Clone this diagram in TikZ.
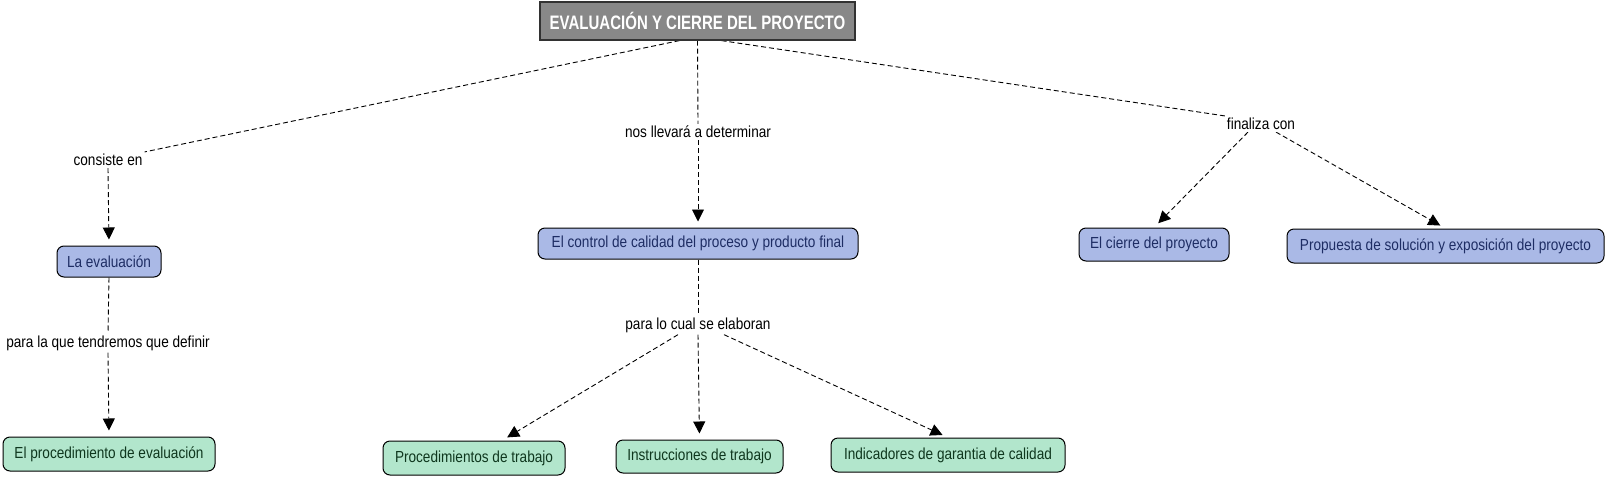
\documentclass[tikz,border=0pt]{standalone}
\usepackage{fontspec}
\setmainfont{Liberation Sans}[FakeStretch=0.85]
\newfontfamily\titlefont{Liberation Sans}[FakeStretch=0.77]
\usetikzlibrary{arrows.meta}
\definecolor{bluefill}{RGB}{170,185,230}
\definecolor{bluetext}{RGB}{30,45,100}
\definecolor{greenfill}{RGB}{178,230,204}
\definecolor{greentext}{RGB}{15,55,30}
\definecolor{titlefill}{RGB}{136,136,136}
\definecolor{titleborder}{RGB}{50,50,50}
\pgfdeclarelayer{bg}
\pgfsetlayers{bg,main}
\begin{document}
\begin{tikzpicture}[x=1pt,y=1pt,
  concept/.style={draw=black, rounded corners=7pt, inner xsep=6pt, font=\fontsize{16}{18}\selectfont, line width=1pt},
  bluebox/.style={concept, fill=bluefill, text=bluetext},
  greenbox/.style={concept, fill=greenfill, text=greentext},
  titlebox/.style={draw=titleborder, fill=titlefill, text=white, line width=1.2pt, font=\titlefont\fontsize{19.5}{22}\selectfont\bfseries},
  lbl/.style={font=\fontsize{16}{18}\selectfont, inner sep=2pt, fill=white},
  conn/.style={line width=0.9pt, dash pattern=on 5pt off 3pt},
  arr/.style={conn, -{Triangle[length=12pt,width=12pt]}, shorten >=6pt}
]
\useasboundingbox (0,0) rectangle (1607,-477);
\node[titlebox, minimum width=315pt, minimum height=38pt] (title) at (697.5,-21) {EVALUACIÓN Y CIERRE DEL PROYECTO};
\node[lbl] (consiste) at (108,-160) {consiste en};
\node[lbl] (nos) at (698,-132) {nos llevará a determinar};
\node[lbl] (fin) at (1261,-124) {finaliza con};
\node[bluebox, minimum width=104pt, minimum height=31pt] (eval) at (109,-261.5) {La evaluación};
\node[bluebox, minimum width=320pt, minimum height=31pt] (control) at (698,-243.5) {El control de calidad del proceso y producto final};
\node[bluebox, minimum width=150pt, minimum height=33pt] (cierre) at (1154,-244.5) {El cierre del proyecto};
\node[bluebox, minimum width=317pt, minimum height=34pt] (prop) at (1445.5,-246) {Propuesta de solución y exposición del proyecto};
\node[lbl] (paraque) at (108,-343) {para la que tendremos que definir};
\node[lbl] (paracual) at (698,-325) {para lo cual se elaboran};
\node[greenbox, minimum width=212pt, minimum height=34pt] (proc) at (109,-454) {El procedimiento de evaluación};
\node[greenbox, minimum width=182pt, minimum height=34pt] (proct) at (474,-458) {Procedimientos de trabajo};
\node[greenbox, minimum width=167pt, minimum height=33pt] (instr) at (699.5,-456.5) {Instrucciones de trabajo};
\node[greenbox, minimum width=234pt, minimum height=34pt] (indic) at (948,-455) {Indicadores de garantia de calidad};
\begin{pgfonlayer}{bg}
\draw[conn] ([xshift=-18pt]title.south) -- (consiste.north east);
\draw[conn] (title.south) -- (nos.north);
\draw[conn] ([xshift=24pt]title.south) -- (fin.north west);
\draw[arr] (consiste.south) -- (eval.north);
\draw[arr] (nos.south) -- (control.north);
\draw[arr] ([xshift=-13pt]fin.south) -- (cierre.north);
\draw[arr] ([xshift=15pt]fin.south) -- (prop.north);
\draw[conn] (eval.south) -- (paraque.north);
\draw[arr] (paraque.south) -- (proc.north);
\draw[conn] (control.south) -- (paracual.north);
\draw[arr] ([xshift=-20pt]paracual.south) -- ([xshift=28pt]proct.north);
\draw[arr] (paracual.south) -- (instr.north);
\draw[arr] ([xshift=26pt]paracual.south) -- (indic.north);
\end{pgfonlayer}
\end{tikzpicture}
\end{document}
